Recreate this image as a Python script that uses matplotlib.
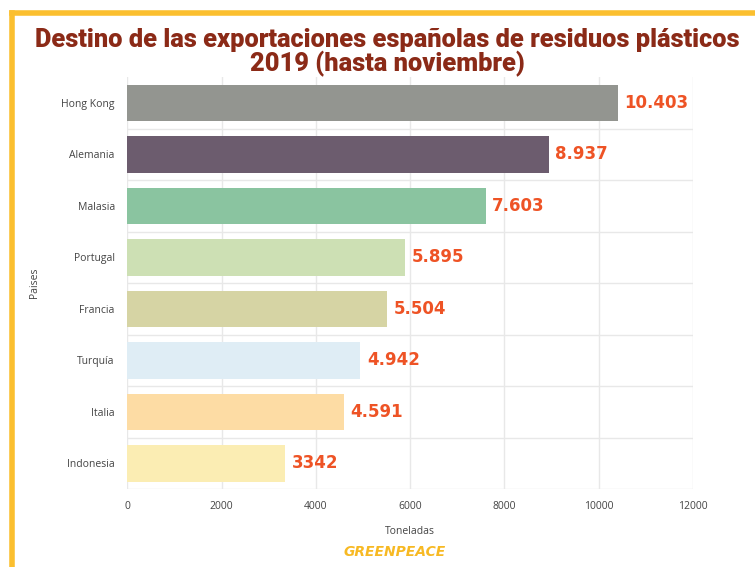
import matplotlib.pyplot as plt
import matplotlib.ticker as mtick
import numpy as np
from matplotlib.lines import Line2D

# Data
paises = ['Hong Kong', 'Alemania', 'Malasia', 'Portugal', 'Francia', 'Turquía', 'Italia', 'Indonesia']
toneladas = [10403, 8937, 7603, 5895, 5504, 4942, 4591, 3342]
etiquetas = ['10.403', '8.937', '7.603', '5.895', '5.504', '4.942', '4.591', '3342']
colores = ['#939590', '#6c5c6e', '#8ac4a0', '#cde0b4', '#d6d4a4', '#dfedf5', '#fddca4', '#fbedb3']
x_ticks = [0, 2000, 4000, 6000, 8000, 10000, 12000]

fig = plt.figure(figsize=(7.55, 5.67), dpi=100)
ax = fig.add_axes([0.1687, 0.1376, 0.749, 0.7261])

pos = np.arange(len(paises))
ax.barh(pos, toneladas, height=0.71, color=colores, edgecolor='none', zorder=3)

for p, v, t in zip(pos, toneladas, etiquetas):
    ax.text(v + 140, p, t, va='center', ha='left', color='#ee5325',
            fontsize=12, fontweight='bold', family='DejaVu Sans', zorder=4)

ax.set_xlim(0, 12000)
ax.set_ylim(len(paises) - 0.5, -0.5)
ax.set_yticks(pos)
ax.set_yticklabels(paises)
# grid lines between the bars, none on top
ax.set_yticks(np.arange(1, len(paises) + 1) - 0.5, minor=True)
ax.set_xticks(x_ticks)
ax.xaxis.set_major_formatter(mtick.FormatStrFormatter('%d'))

ax.grid(axis='x', which='major', color='#e8e8e8', linewidth=1, zorder=0)
ax.grid(axis='y', which='minor', color='#e8e8e8', linewidth=1, zorder=0)
ax.grid(axis='y', which='major', visible=False)

for s in ax.spines.values():
    s.set_visible(False)
ax.tick_params(axis='both', which='both', length=0)
ax.tick_params(axis='y', pad=9, labelsize=7.5, labelcolor='#444444')
ax.tick_params(axis='x', pad=9, labelsize=7.5, labelcolor='#444444')
for lbl in ax.get_xticklabels() + ax.get_yticklabels():
    lbl.set_family('Open Sans')

ax.set_xlabel('Toneladas', fontsize=7.5, color='#444444', family='Open Sans', labelpad=10)
ax.set_ylabel('Paises', fontsize=7.5, color='#444444', family='Open Sans', labelpad=0)
ax.yaxis.set_label_coords(-0.155, 0.5)

# Title
titulo_kw = dict(ha='center', va='center', fontsize=18.3, fontweight='black',
                 color='#8b2a17', family='Roboto')
fig.text(0.513, 0.929, 'Destino de las exportaciones españolas de residuos plásticos', **titulo_kw)
fig.text(0.513, 0.888, '2019 (hasta noviembre)', **titulo_kw)

# Greenpeace mark
fig.text(0.523, 0.027, 'GREENPEACE', ha='center', va='center', fontsize=10,
         fontweight='bold', style='italic', color='#f7b923', family='DejaVu Sans')

# Yellow frame (top and left)
fig.add_artist(Line2D([0.0159, 1.0], [0.9775, 0.9775], transform=fig.transFigure,
                      color='#fbbf2f', linewidth=4))
fig.add_artist(Line2D([0.0159, 0.0159], [0.9775, 0.0], transform=fig.transFigure,
                      color='#fbbf2f', linewidth=4))

fig.savefig('out.png', dpi=100)
